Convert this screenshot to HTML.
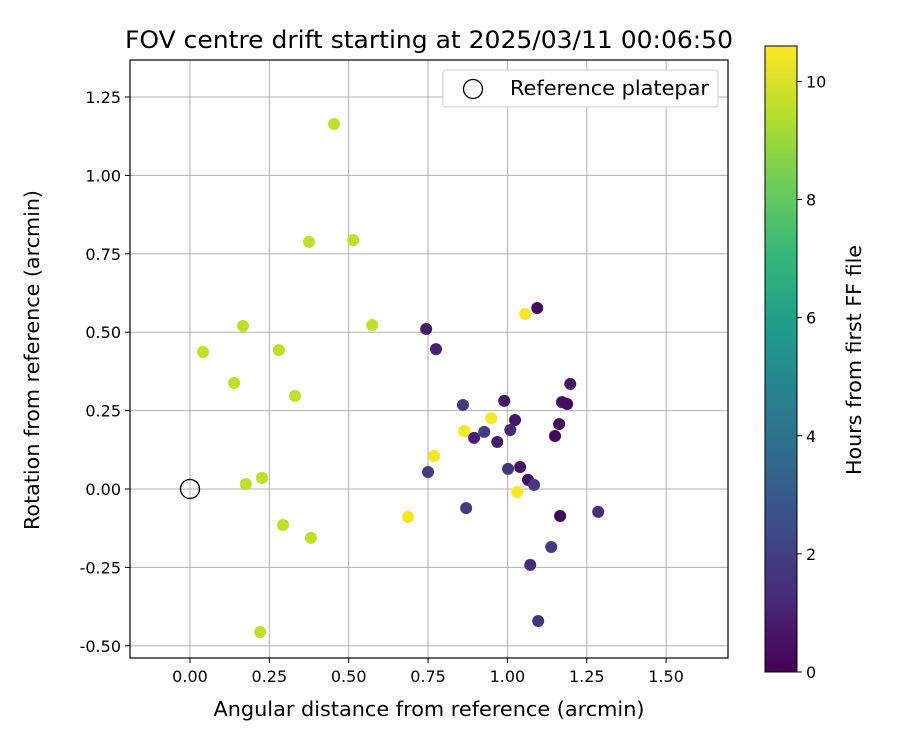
<!DOCTYPE html>
<html><head><meta charset="utf-8"><style>
body{margin:0;background:#fff;font-family:"Liberation Sans","DejaVu Sans",sans-serif}
svg text{font-family:"DejaVu Sans","Liberation Sans",sans-serif}
</style></head><body>
<svg id="c" width="900" height="750"></svg>
<script>
const xs=[0.454,0.375,0.514,0.574,0.041,0.167,0.280,0.139,0.331,0.176,0.227,0.293,0.381,0.221,
1.056,0.769,0.864,0.949,1.031,0.687,
0.744,0.775,1.094,0.990,1.024,1.198,1.172,1.188,1.163,1.150,1.040,1.065,1.166,0.895,0.968,
0.860,0.927,1.009,0.750,0.870,1.002,1.084,1.138,1.072,1.097,1.286];
const ys=[1.164,0.788,0.794,0.523,0.437,0.520,0.443,0.338,0.297,0.016,0.035,-0.115,-0.156,-0.456,
0.558,0.105,0.185,0.226,-0.010,-0.089,
0.510,0.446,0.577,0.281,0.220,0.335,0.277,0.271,0.207,0.169,0.070,0.029,-0.086,0.163,0.150,
0.268,0.182,0.188,0.054,-0.061,0.064,0.013,-0.185,-0.242,-0.421,-0.073];
const hs=[9.6,9.6,9.6,9.6,9.6,9.6,9.6,9.6,9.6,9.6,9.6,9.6,9.6,9.6,
10.5,10.5,10.5,10.5,10.5,10.5,
0.8,1.0,0.3,0.5,0.6,0.7,0.4,0.3,0.3,0.2,0.5,0.3,0.1,0.9,0.8,
1.8,1.9,1.2,1.9,1.8,1.6,1.8,1.9,1.3,1.6,1.4];
const xTicks=[0,0.25,0.5,0.75,1.0,1.25,1.5];
const yTicks=[-0.5,-0.25,0,0.25,0.5,0.75,1.0,1.25];
const cTicks=[0,2,4,6,8,10];
const L=130,R=728,T=60,B=658,x0=-0.189,x1=1.695,y0=-0.539,y1=1.368,hmax=10.6;
const sx=v=>L+(v-x0)/(x1-x0)*(R-L), sy=v=>B-(v-y0)/(y1-y0)*(B-T);
const vir=[[68,1,84],[72,40,120],[62,74,137],[49,104,142],[38,130,142],[31,158,137],[53,183,121],[109,205,89],[180,222,44],[253,231,37]];
function col(t){t=Math.max(0,Math.min(1,t))*9;const i=Math.min(8,Math.floor(t)),f=t-i,a=vir[i],b=vir[i+1];
return `rgb(${a.map((v,k)=>Math.round(v+(b[k]-v)*f)).join(',')})`;}
const s=document.getElementById('c');const NS='http://www.w3.org/2000/svg';
function el(t,at,p){const e=document.createElementNS(NS,t);for(const k in at)e.setAttribute(k,at[k]);(p||s).appendChild(e);return e;}
function tx(x,y,str,at){const e=el('text',Object.assign({x:x,y:y,'font-size':16,fill:'#000'},at));e.textContent=str;return e;}
xTicks.forEach(v=>{const g=el('line',{x1:sx(v),x2:sx(v),y1:T,y2:B,stroke:'#b0b0b0','stroke-width':1});

el('line',{x1:sx(v),x2:sx(v),y1:B,y2:B+5,stroke:'#000'});
const t=tx(sx(v),B+24,v.toFixed(2),{'text-anchor':'middle'});});
yTicks.forEach(v=>{const g=el('line',{x1:L,x2:R,y1:sy(v),y2:sy(v),stroke:'#b0b0b0','stroke-width':1});

el('line',{x1:L-5,x2:L,y1:sy(v),y2:sy(v),stroke:'#000'});
const t=tx(L-9,sy(v)+6,v.toFixed(2),{'text-anchor':'end'});});
xs.forEach((v,i)=>{const c=el('circle',{cx:sx(v),cy:sy(ys[i]),r:6,fill:col(hs[i]/hmax)});
});
const rp=el('circle',{cx:sx(0),cy:sy(0),r:9.5,fill:'none',stroke:'#000','stroke-width':1.3});

el('rect',{x:L,y:T,width:R-L,height:B-T,fill:'none',stroke:'#000','stroke-width':1.2});
const lg=el('rect',{x:443,y:70,width:275,height:37,rx:3,fill:'#fff',stroke:'#ccc'});

el('circle',{cx:473,cy:89,r:9.5,fill:'none',stroke:'#000','stroke-width':1.3});
tx(510,95,'Reference platepar',{'font-size':20.5,textLength:199,lengthAdjust:'spacingAndGlyphs'});
tx(429,48,'FOV centre drift starting at 2025/03/11 00:06:50',{'text-anchor':'middle','font-size':24,textLength:608,lengthAdjust:'spacingAndGlyphs'});
tx(429,716,'Angular distance from reference (arcmin)',{'text-anchor':'middle','font-size':20.5,textLength:431,lengthAdjust:'spacingAndGlyphs'});
tx(0,0,'Rotation from reference (arcmin)',{'text-anchor':'middle','font-size':20.5,textLength:340,lengthAdjust:'spacingAndGlyphs',transform:`translate(39,360) rotate(-90)`});
const CL=765,CR=797,CT=46,CB=672;
const defs=el('defs',{});const gr=el('linearGradient',{id:'g',x1:0,y1:1,x2:0,y2:0},defs);
vir.forEach((c,i)=>el('stop',{offset:i/9,'stop-color':`rgb(${c})`},gr));
const cb=el('rect',{x:CL,y:CT,width:CR-CL,height:CB-CT,fill:'url(#g)',stroke:'#000','stroke-width':1});

cTicks.forEach(v=>{const y=CB-v/hmax*(CB-CT);el('line',{x1:CR,x2:CR+5,y1:y,y2:y,stroke:'#000'});
const t=tx(CR+9,y+6,String(v));});
tx(0,0,'Hours from first FF file',{'text-anchor':'middle','font-size':20.5,textLength:230,lengthAdjust:'spacingAndGlyphs',transform:`translate(861,360) rotate(-90)`});
</script>
</body></html>
